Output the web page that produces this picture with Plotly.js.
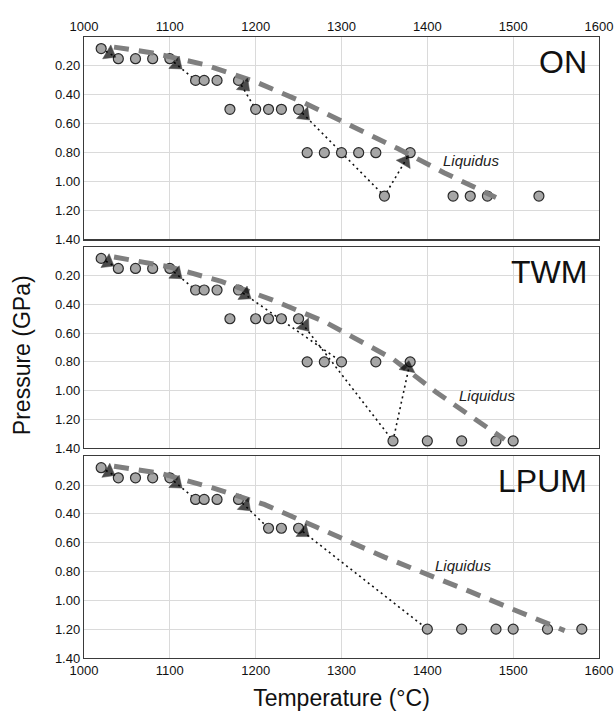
<!DOCTYPE html>
<html>
<head>
<meta charset="utf-8">
<script src="https://cdn.plot.ly/plotly-3.0.1.min.js"></script>
<style>html,body{margin:0;padding:0;background:#fff;}#chart{width:616px;height:714px;}</style>
</head>
<body>
<div id="chart"></div>
<script>
// ---------- data ----------
const panelNames = ['ON', 'TWM', 'LPUM'];

// experimental run points (Temperature °C, Pressure GPa)
const T_ON = [1020,1040,1060,1080,1100,1130,1140,1155,1180,1170,1200,1215,1230,1250,1260,1280,1300,1320,1340,1380,1350,1430,1450,1470,1530];
const P_ON = [0.08,0.15,0.15,0.15,0.15,0.30,0.30,0.30,0.30,0.50,0.50,0.50,0.50,0.50,0.80,0.80,0.80,0.80,0.80,0.80,1.10,1.10,1.10,1.10,1.10];

const T_TWM = [1020,1040,1060,1080,1100,1130,1140,1155,1180,1170,1200,1215,1230,1250,1260,1280,1300,1340,1380,1360,1400,1440,1480,1500];
const P_TWM = [0.08,0.15,0.15,0.15,0.15,0.30,0.30,0.30,0.30,0.50,0.50,0.50,0.50,0.50,0.80,0.80,0.80,0.80,0.80,1.35,1.35,1.35,1.35,1.35];

const T_LPUM = [1020,1040,1060,1080,1100,1130,1140,1155,1180,1215,1230,1250,1400,1440,1480,1500,1540,1580];
const P_LPUM = [0.08,0.15,0.15,0.15,0.15,0.30,0.30,0.30,0.30,0.50,0.50,0.50,1.20,1.20,1.20,1.20,1.20,1.20];

// liquidus curves
const liqT_ON = [1035,1080,1140,1200,1255,1310,1365,1420,1480];
const liqP_ON = [0.07,0.11,0.19,0.31,0.45,0.61,0.77,0.94,1.11];
const liqT_TWM = [1035,1100,1160,1220,1280,1330,1360,1410,1460,1490];
const liqP_TWM = [0.07,0.14,0.24,0.37,0.52,0.68,0.78,1.01,1.22,1.34];
const liqT_LPUM = [1035,1090,1150,1210,1270,1350,1450,1560];
const liqP_LPUM = [0.07,0.12,0.22,0.335,0.49,0.70,0.94,1.21];

// decompression paths (dotted), null = break
const pathT_ON = [1020,1040,null,1100,1130,null,1180,1200,null,1250,1350,1380];
const pathP_ON = [0.08,0.15,null,0.15,0.30,null,0.30,0.50,null,0.50,1.10,0.80];
const pathT_TWM = [1020,1040,null,1100,1130,null,1180,1300,null,1250,1360,1380];
const pathP_TWM = [0.08,0.15,null,0.15,0.30,null,0.30,0.80,null,0.50,1.35,0.80];
const pathT_LPUM = [1020,1040,null,1100,1130,null,1180,1215,null,1250,1400];
const pathP_LPUM = [0.08,0.15,null,0.15,0.30,null,0.30,0.50,null,0.50,1.20];

// arrow heads: segment start and arrow position
const arrFromT_ON = [1020,1100,1180,1250,1350];
const arrFromP_ON = [0.08,0.15,0.30,0.50,1.10];
const arrT_ON = [1030,1108,1187,1257,1374];
const arrP_ON = [0.115,0.19,0.34,0.54,0.86];

const arrFromT_TWM = [1020,1100,1180,1250,1360];
const arrFromP_TWM = [0.08,0.15,0.30,0.50,1.35];
const arrT_TWM = [1028,1108,1188,1257,1377];
const arrP_TWM = [0.108,0.19,0.333,0.55,0.84];

const arrFromT_LPUM = [1020,1100,1180,1250];
const arrFromP_LPUM = [0.08,0.15,0.30,0.50];
const arrT_LPUM = [1029,1108,1188,1256];
const arrP_LPUM = [0.11,0.19,0.345,0.528];

// liquidus label positions
const labT = [1416, 1434, 1407];
const labP = [0.853, 1.036, 0.76];

const tempTicks = [1000,1100,1200,1300,1400,1500,1600];
const presTicks = [0.2,0.4,0.6,0.8,1.0,1.2,1.4];
const presTickText = ['0.20','0.40','0.60','0.80','1.00','1.20','1.40'];

// ---------- build ----------
const FONT = 'Liberation Sans, Arial, Helvetica, sans-serif';
const panels = [
  {pt:[T_ON,P_ON], lq:[liqT_ON,liqP_ON], pa:[pathT_ON,pathP_ON], af:[arrFromT_ON,arrFromP_ON], ar:[arrT_ON,arrP_ON]},
  {pt:[T_TWM,P_TWM], lq:[liqT_TWM,liqP_TWM], pa:[pathT_TWM,pathP_TWM], af:[arrFromT_TWM,arrFromP_TWM], ar:[arrT_TWM,arrP_TWM]},
  {pt:[T_LPUM,P_LPUM], lq:[liqT_LPUM,liqP_LPUM], pa:[pathT_LPUM,pathP_LPUM], af:[arrFromT_LPUM,arrFromP_LPUM], ar:[arrT_LPUM,arrP_LPUM]}
];
const traces = [];
panels.forEach((p, i) => {
  const xa = i === 0 ? 'x' : 'x' + (i + 1);
  const ya = i === 0 ? 'y' : 'y' + (i + 1);
  traces.push({x:p.pa[0], y:p.pa[1], xaxis:xa, yaxis:ya, mode:'lines', connectgaps:false,
    line:{color:'#111', width:1.6, dash:'2px,3.5px'}, hoverinfo:'skip', showlegend:false});
  traces.push({x:p.pt[0], y:p.pt[1], xaxis:xa, yaxis:ya, mode:'markers',
    marker:{symbol:'circle', size:10, color:'#a6a6a6', line:{color:'#2a2a2a', width:1.2}}, showlegend:false});
  traces.push({x:p.lq[0], y:p.lq[1], xaxis:xa, yaxis:ya, mode:'lines', line:{color:'#7f7f7f', width:5, dash:'15px,10px'},
    hoverinfo:'skip', showlegend:false});
  for (let k = 0; k < p.ar[0].length; k++) {
    traces.push({x:[p.af[0][k], p.ar[0][k]], y:[p.af[1][k], p.ar[1][k]], xaxis:xa, yaxis:ya, mode:'markers',
      marker:{symbol:'triangle-up', size:[0,14], color:'#000', angleref:'previous', line:{width:0.5, color:'#000'}},
      hoverinfo:'skip', showlegend:false});
  }
});

const domains = [[0.674,1],[0.338,0.662],[0,0.325]];
const layout = {
  width:616, height:714,
  margin:{l:84, r:17, t:37, b:56},
  paper_bgcolor:'#fff', plot_bgcolor:'#fff',
  font:{family:FONT, color:'#111', size:13},
  showlegend:false,
  annotations:[]
};
for (let i = 0; i < 3; i++) {
  const xk = i === 0 ? 'xaxis' : 'xaxis' + (i + 1);
  const yk = i === 0 ? 'yaxis' : 'yaxis' + (i + 1);
  const ya = i === 0 ? 'y' : 'y' + (i + 1);
  const xa = i === 0 ? 'x' : 'x' + (i + 1);
  layout[xk] = {
    anchor: ya, domain:[0,1], range:[1000,1600], tickvals:tempTicks,
    showticklabels: i !== 1, side: i === 0 ? 'top' : 'bottom',
    showgrid:true, gridcolor:'#dadada', gridwidth:1, zeroline:false,
    showline:true, mirror:true, linecolor:'#3a3a3a', linewidth:1.2, ticks:'',
    tickfont:{family:FONT, size:13, color:'#111'}
  };
  layout[yk] = {
    anchor: xa, domain:domains[i], range:[1.4,0], tickvals:presTicks, ticktext:presTickText,
    showgrid:true, gridcolor:'#dadada', gridwidth:1, zeroline:false,
    showline:true, mirror:true, linecolor:'#3a3a3a', linewidth:1.2, ticks:'',
    tickfont:{family:FONT, size:13, color:'#111'}
  };
  layout.annotations.push({xref:xa + ' domain', yref:ya + ' domain', x:0.981, y:0.876, xanchor:'right', yanchor:'middle',
    text:panelNames[i], showarrow:false, font:{family:FONT, size:32, color:'#111'}});
  layout.annotations.push({xref:xa, yref:ya, x:labT[i], y:labP[i], xanchor:'left', yanchor:'middle',
    text:'<i>Liquidus</i>', showarrow:false, font:{family:FONT, size:15, color:'#222'}});
}
layout.xaxis3.title = {text:'Temperature (°C)', font:{family:FONT, size:23, color:'#111'}, standoff:13};
layout.annotations.push({xref:'paper', yref:'paper', x:-0.12, y:0.488, xanchor:'center', yanchor:'middle',
  text:'Pressure (GPa)', textangle:-90, showarrow:false, font:{family:FONT, size:23, color:'#111'}});

Plotly.newPlot('chart', traces, layout, {displayModeBar:false, staticPlot:true});
</script>
</body>
</html>
